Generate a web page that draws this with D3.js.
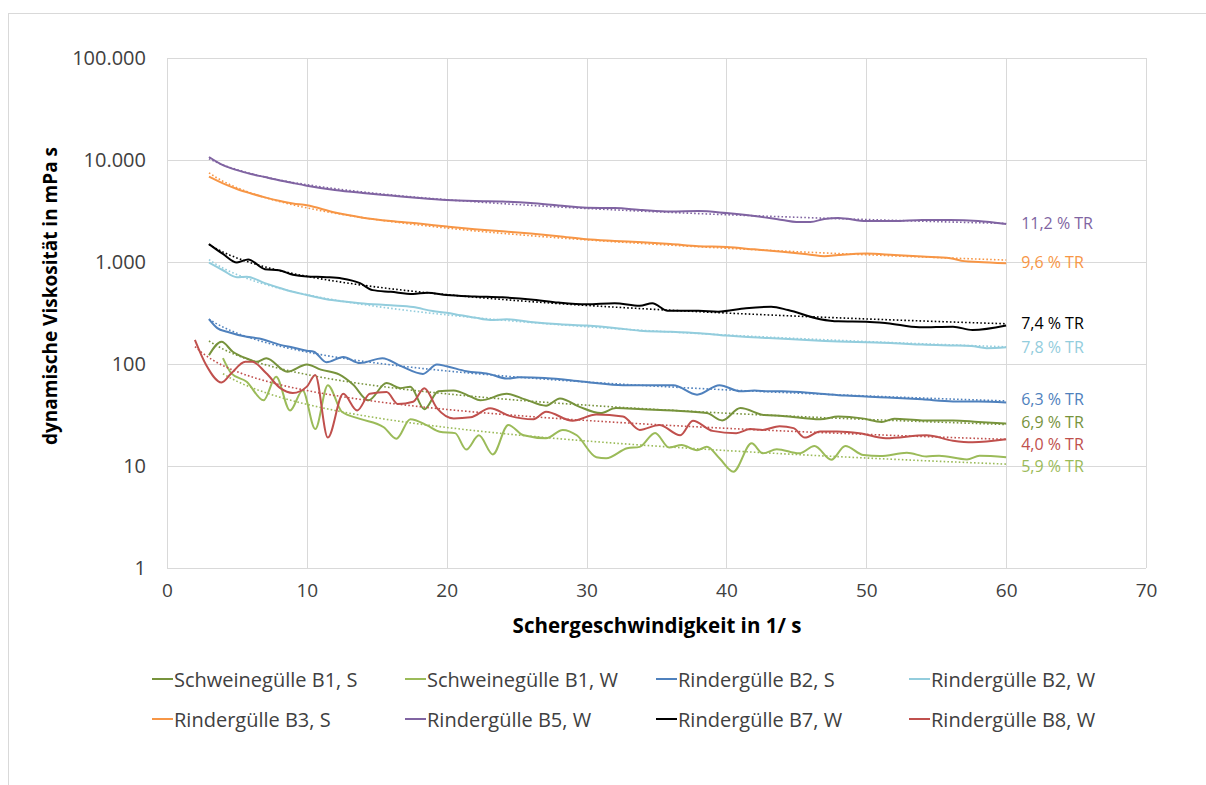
<!DOCTYPE html>
<html>
<head>
<meta charset="utf-8">
<script src="https://cdn.jsdelivr.net/npm/d3@7"></script>
<style>
  body { margin: 0; background: #fff; }
  text { font-family: "Open Sans", sans-serif; }
</style>
</head>
<body>
<svg id="chart" width="1206" height="785"></svg>
<script>
// values: [shear rate 1/s, viscosity mPa s]
const b1S = [[3,122],[3.9,165],[4.7,132],[5.8,112],[6.4,105],[7.1,114],[8.6,84],[10,99],[11,88],[12.3,79],[13.3,63],[14.4,44],[15.7,65],[16.7,58],[17.4,60],[18.4,36],[19.4,54],[20.5,55],[21.7,48],[22.4,44],[24.3,51],[25.6,45],[27.1,39],[28.1,46],[29.5,38],[31,33],[32.1,37],[34,36],[36.2,35],[38.6,33],[39.7,28],[41,37],[42.7,31.6],[44,31],[46.7,28.7],[48,30.5],[49.7,29.3],[51.1,27],[52,29],[54,28],[56.2,28],[58,27],[60,26]];
const b1W = [[4,114],[4.6,81],[5.7,67],[6.9,44],[7.8,75],[8.8,35],[9.7,55],[10.6,23],[11.5,62],[12.5,34],[13.8,29],[15.5,24],[16.4,18.5],[17.4,28.7],[18.6,25],[19.5,21.7],[20.6,21],[21.4,14.5],[22.3,20],[23.3,13],[24.4,25.3],[25.5,20],[27.1,18.7],[28.3,22.6],[29.3,20],[30.7,12.2],[31.4,11.9],[32.9,14.9],[33.8,15.4],[34.9,21.1],[35.9,15.2],[36.8,16.1],[37.9,14.3],[38.6,15.4],[39.5,11.9],[40.5,8.8],[41.8,16.7],[42.6,13.3],[43.6,14.6],[45.2,13.3],[46.3,15.7],[47.5,11.5],[48.5,15.7],[49.8,12.8],[51,12.5],[52.9,13.5],[54.3,12.4],[55.2,12.6],[57.2,11.6],[58.1,12.6],[60,12.2]];
const b2S = [[3,276],[3.6,225],[4.3,207],[5.7,185],[6.6,178],[8.1,154],[9,145],[10,135],[10.5,132],[11.4,104],[12.6,117],[13.8,102],[15.4,114],[16.7,96],[18.3,80],[19.3,99],[20,95],[21.4,85],[23,80],[24.3,72],[25.2,74],[27,73],[28.5,70],[30.2,66],[32.6,62],[34,62],[36.2,62],[37.9,50],[39.5,62],[41,54],[42,55],[43,54],[44,54],[46.7,51],[48.5,49],[51.5,47],[54,45],[56.2,43],[58,43],[60,42]];
const b2W = [[3,985],[4,830],[5,710],[5.7,717],[7,620],[8,560],[9,510],[10,475],[11.4,432],[12.5,412],[13.8,394],[16,376],[17.6,362],[19,330],[20,318],[21,300],[22,285],[23.1,270],[24.3,274],[26,258],[28.1,245],[30,238],[32,226],[33.8,212],[36,207],[38.1,200],[40,190],[41,186],[43,180],[46.7,169],[48,166],[50,163],[52,160],[54,155],[56,152],[57.5,150],[58.6,143],[60,146]];
const b3S = [[3,6860],[4,5900],[5,5200],[6,4700],[7,4300],[8,3980],[9,3750],[10,3600],[12,3050],[14,2720],[16,2520],[18,2380],[20,2230],[22,2100],[24,2000],[26,1900],[28,1790],[30,1670],[32,1610],[34,1560],[36,1500],[38,1430],[40,1400],[42,1330],[44,1260],[46,1180],[47,1140],[48,1170],[50,1210],[52,1170],[54,1130],[56,1090],[57,1020],[58,1000],[60,970]];
const b5W = [[3,10700],[4,8900],[5,7950],[6,7300],[7,6800],[8,6340],[9,5950],[10,5600],[12,5080],[14,4750],[16,4490],[18,4240],[20,4050],[22,3960],[24,3920],[26,3790],[28,3580],[30,3400],[32,3380],[34,3230],[36,3130],[38,3160],[40,3020],[42,2830],[44,2580],[45,2470],[46,2470],[47,2640],[48,2700],[50,2520],[52,2520],[54,2580],[56,2580],[58,2520],[60,2360]];
const b7W = [[3,1500],[4,1200],[5,990],[5.8,1060],[7,850],[8,830],[9,750],[10,720],[11.4,710],[12.5,690],[13.8,620],[14.7,530],[16,510],[17.6,486],[18.6,500],[20,475],[22,460],[24,450],[26,430],[28,400],[30,385],[32,394],[33.8,373],[34.7,394],[35.8,333],[38,333],[39.4,326],[41.4,352],[43.2,364],[44.4,338],[46.7,275],[48,262],[50,260],[51.5,251],[53.8,229],[56.2,232],[57.6,215],[60,238]];
const b8W = [[2,172],[2.8,98],[3.9,66],[4.6,81],[5.6,105],[6.1,105],[7.1,81],[8.1,58],[9,52],[10,60],[10.6,78],[11.5,19],[12.6,51],[13.6,35],[14.5,51],[15.7,53],[16.5,40.5],[17.6,42.7],[18.4,58],[19.3,37],[20.5,29.3],[21.7,30],[23.1,36.8],[24.5,31],[26.2,28.7],[27.1,34],[29,27.8],[30.7,32],[32.6,30.5],[33.8,22.6],[35.2,25.3],[36.7,20],[37.6,27.8],[39,22.1],[40.7,21],[41.7,23],[42.6,22.6],[43.8,24.6],[44.8,23.5],[45.6,19],[46.7,21.8],[47.9,21.8],[49.5,21],[51.4,18.7],[54.3,20],[56.2,17.7],[57.6,17.1],[60,18.3]];

const seriesNames = ["Schweinegülle B1, S", "Schweinegülle B1, W", "Rindergülle B2, S", "Rindergülle B2, W",
                     "Rindergülle B3, S", "Rindergülle B5, W", "Rindergülle B7, W", "Rindergülle B8, W"];
const seriesData = [b1S, b1W, b2S, b2W, b3S, b5W, b7W, b8W];
const trLabels = ["6,9 % TR", "5,9 % TR", "6,3 % TR", "7,8 % TR", "9,6 % TR", "11,2 % TR", "7,4 % TR", "4,0 % TR"];
const xTicks = [0, 10, 20, 30, 40, 50, 60, 70];
const yTicks = [1, 10, 100, 1000, 10000, 100000];

const colors = ["#77933C", "#9BBB59", "#4F81BD", "#93CDDD", "#F79646", "#8064A2", "#000000", "#C0504D"];
const labelDy = [-2, 9, -3, 0, -1, -1, -3, 5];

const svg = d3.select("#chart");
const plotLeft = 167, plotRight = 1146, plotTop = 58, plotBottom = 568;

// outer chart border
svg.append("rect")
  .attr("x", 8.5).attr("y", 13.5)
  .attr("width", 1220).attr("height", 800)
  .attr("fill", "none").attr("stroke", "#d9d9d9");

const x = d3.scaleLinear().domain([0, 70]).range([plotLeft, plotRight]);
const y = d3.scaleLog().domain([1, 100000]).range([plotBottom, plotTop]);

const de = d3.formatLocale({decimal: ",", thousands: ".", grouping: [3], currency: ["", " €"]});
const fmt = de.format(",d");

// grid
svg.append("g").selectAll("line").data(yTicks).join("line")
  .attr("x1", plotLeft).attr("x2", plotRight)
  .attr("y1", d => Math.round(y(d)) + 0.5).attr("y2", d => Math.round(y(d)) + 0.5)
  .attr("stroke", "#d9d9d9");
svg.append("g").selectAll("line").data(xTicks).join("line")
  .attr("x1", d => Math.round(x(d)) + 0.5).attr("x2", d => Math.round(x(d)) + 0.5)
  .attr("y1", plotTop).attr("y2", plotBottom)
  .attr("stroke", "#d9d9d9");

// axes
const yAxis = svg.append("g")
  .attr("transform", `translate(${plotLeft},0)`)
  .call(d3.axisLeft(y).tickValues(yTicks).tickFormat(fmt).tickSize(0).tickPadding(21));
const xAxis = svg.append("g")
  .attr("transform", `translate(0,${plotBottom})`)
  .call(d3.axisBottom(x).tickValues(xTicks).tickSize(0).tickPadding(16));
[yAxis, xAxis].forEach(a => {
  a.select(".domain").remove();
  a.selectAll("text").attr("fill", "#404040")
    .style("font-family", '"Open Sans", sans-serif');
});
yAxis.selectAll("text").attr("font-size", 20);
xAxis.selectAll("text").attr("font-size", 19);

// axis titles
svg.append("text")
  .attr("transform", "translate(50,296) rotate(-90)")
  .attr("text-anchor", "middle").attr("dominant-baseline", "central")
  .attr("font-size", 19).attr("font-weight", "bold").attr("fill", "#000")
  .text("dynamische Viskosität in mPa s");
svg.append("text")
  .attr("x", 657).attr("y", 633)
  .attr("text-anchor", "middle")
  .attr("font-size", 20.5).attr("font-weight", "bold").attr("fill", "#000")
  .text("Schergeschwindigkeit in 1/ s");

// power trendline (least squares on ln x / ln y, like Excel)
function powerTrend(data) {
  const n = data.length;
  let sx = 0, sy = 0, sxx = 0, sxy = 0;
  data.forEach(([a, b]) => {
    const lx = Math.log(a), ly = Math.log(b);
    sx += lx; sy += ly; sxx += lx * lx; sxy += lx * ly;
  });
  const k = (n * sxy - sx * sy) / (n * sxx - sx * sx);
  const c = Math.exp((sy - k * sx) / n);
  const x0 = data[0][0], x1 = data[n - 1][0];
  return d3.range(x0, x1 + 0.001, 0.5).map(t => [t, c * Math.pow(t, k)]);
}

const line = d3.line().x(d => x(d[0])).y(d => y(d[1])).curve(d3.curveMonotoneX);
const trendLine = d3.line().x(d => x(d[0])).y(d => y(d[1]));

const plot = svg.append("g");
seriesData.forEach((data, i) => {
  plot.append("path")
    .attr("d", line(data))
    .attr("fill", "none").attr("stroke", colors[i]).attr("stroke-width", 2);
  plot.append("path")
    .attr("d", trendLine(powerTrend(data)))
    .attr("fill", "none").attr("stroke", colors[i]).attr("stroke-width", 1.6)
    .attr("stroke-dasharray", "1.6 2.2");
});

// TR labels at line ends
seriesData.forEach((data, i) => {
  const last = data[data.length - 1];
  svg.append("text")
    .attr("x", x(last[0]) + 15)
    .attr("y", y(last[1]) + labelDy[i])
    .attr("dominant-baseline", "central")
    .attr("font-size", 16).attr("fill", colors[i])
    .text(trLabels[i]);
});

// legend
const legCols = [152, 405, 656, 909];
const legRows = [679, 719];
const legend = svg.append("g");
seriesNames.forEach((name, i) => {
  const lx = legCols[i % 4], ly = legRows[Math.floor(i / 4)];
  legend.append("line")
    .attr("x1", lx).attr("x2", lx + 21).attr("y1", ly).attr("y2", ly)
    .attr("stroke", colors[i]).attr("stroke-width", 2);
  legend.append("text")
    .attr("x", lx + 22).attr("y", ly)
    .attr("dominant-baseline", "central")
    .attr("font-size", 20).attr("fill", "#404040")
    .text(name);
});
</script>
</body>
</html>
